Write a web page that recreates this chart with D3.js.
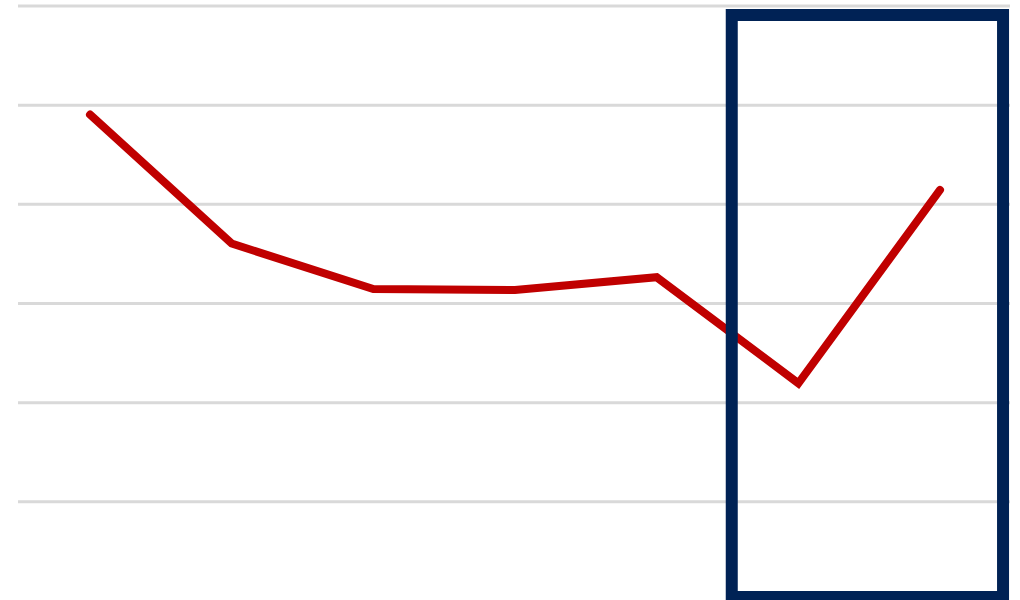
<!DOCTYPE html>
<html>
<head>
<meta charset="utf-8">
<script src="https://cdn.jsdelivr.net/npm/d3@7"></script>
<style>
  html, body { margin: 0; padding: 0; background: #fff; }
  svg { display: block; }
</style>
</head>
<body>
<svg id="chart" width="1020" height="600"></svg>
<script>
const categories = ["1", "2", "3", "4", "5", "6", "7"];
const values = [4.90, 3.60, 3.14, 3.13, 3.26, 2.19, 4.14];
const gridTicks = [1, 2, 3, 4, 5, 6];
const highlight = ["6", "7"];

const svg = d3.select("#chart");
const x = d3.scalePoint().domain(categories).range([90, 940]);
const y = d3.scaleLinear().domain([0, 6]).range([600.5, 5.5]);

svg.append("g")
  .attr("transform", "translate(0,0)")
  .call(d3.axisLeft(y).tickValues(gridTicks).tickSize(-992).tickFormat(""))
  .attr("transform", "translate(1010,0)")
  .call(g => g.select(".domain").remove())
  .call(g => g.selectAll(".tick line")
    .attr("x2", -992)
    .attr("stroke", "#d9d9d9")
    .attr("stroke-width", 3));

const line = d3.line()
  .x((d, i) => x(categories[i]))
  .y(d => y(d));

svg.append("path")
  .datum(values)
  .attr("d", line)
  .attr("fill", "none")
  .attr("stroke", "#c00000")
  .attr("stroke-width", 8)
  .attr("stroke-linecap", "round")
  .attr("stroke-linejoin", "miter");

const step = x.step();
const x0 = x(highlight[0]) - step * 0.47;
const x1 = x(highlight[1]) + step * 0.445;
svg.append("rect")
  .attr("x", x0)
  .attr("y", 15)
  .attr("width", x1 - x0)
  .attr("height", 582)
  .attr("fill", "none")
  .attr("stroke", "#002255")
  .attr("stroke-width", 12);
</script>
</body>
</html>
